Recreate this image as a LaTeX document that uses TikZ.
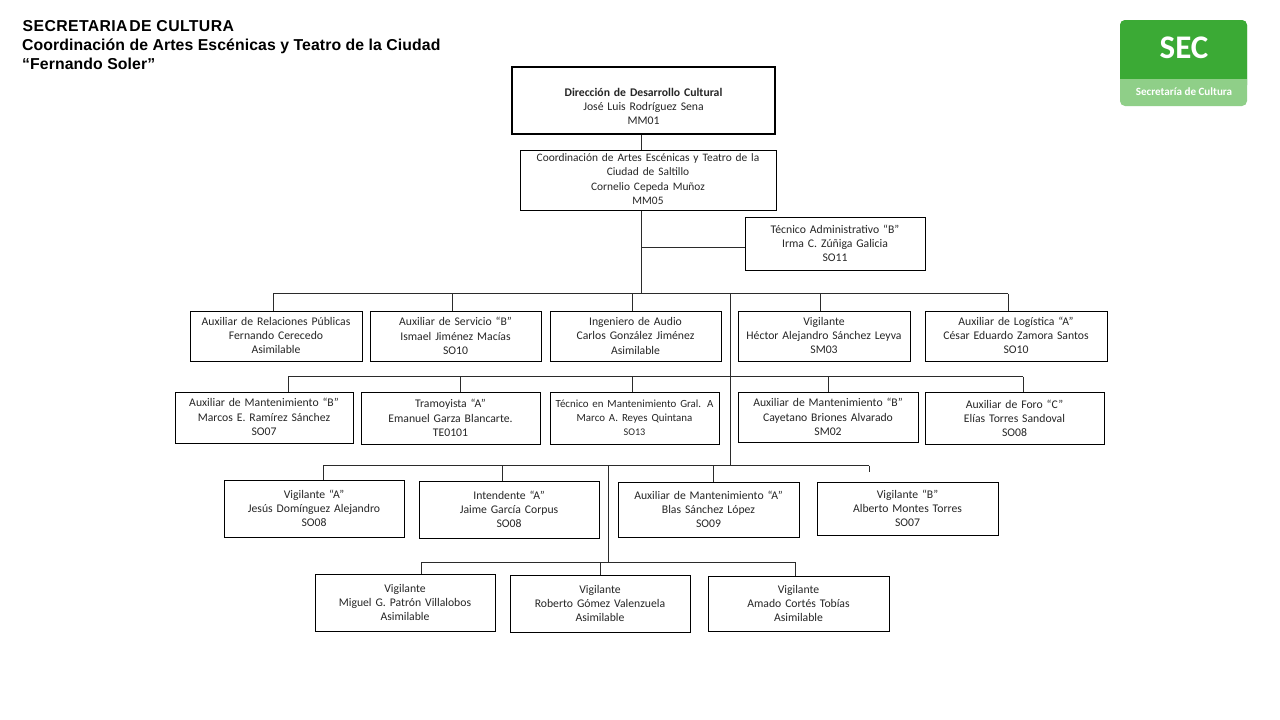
\documentclass[tikz,border=0pt]{standalone}
\usepackage{fontspec}
\setmainfont{Carlito}
\newfontfamily\titlefont{Liberation Sans}
\definecolor{ink}{HTML}{262626}
\definecolor{linec}{HTML}{2B2B2B}
\definecolor{secgreen}{HTML}{3BAA35}
\definecolor{secpale}{HTML}{8FCF88}
\tikzset{
  orgbox/.style={draw=black,line width=1pt,fill=white,inner sep=0pt,align=center,text=ink,
    font=\fontsize{11.7}{14.2}\selectfont},
  topbox/.style={orgbox,line width=2.2pt},
  conn/.style={draw=linec,line width=1pt},
  titletext/.style={anchor=base west,inner sep=0pt,text=black,font=\titlefont\bfseries\fontsize{15.8}{18}\selectfont},
}
% box: optional style, name, x1, y1, x2, y2, text shift, text
\newcommand{\bx}[8][orgbox]{%
  \pgfmathsetmacro{\bw}{#5-#3}\pgfmathsetmacro{\bh}{#6-#4}%
  \pgfmathsetmacro{\bcx}{(#5+#3)/2}\pgfmathsetmacro{\bcy}{(#6+#4)/2}%
  \node[#1,minimum width=\bw pt,minimum height=\bh pt,text width=\bw pt] (#2) at (\bcx,\bcy) {\raisebox{\dimexpr#7pt-5.7pt\relax}{\smash{\parbox{\bw pt}{\centering #8}}}};}
\begin{document}
\begin{tikzpicture}[x=1pt,y=-1pt]
\useasboundingbox (0,0) rectangle (1280,720);
\fill[white] (0,0) rectangle (1280,720);
% titles
\node[titletext] (t1) at (22.5,31) {\addfontfeature{LetterSpace=2.4}SECRETARIA\kern-3pt\ DE CULTURA};
\node[titletext] (t2) at (22,50) {\addfontfeature{LetterSpace=0.6}Coordinación de Artes Escénicas y Teatro de la Ciudad};
\node[titletext] (t3) at (22,69) {\addfontfeature{LetterSpace=0.6}“Fernando Soler”};
% logo
\fill[secpale,rounded corners=5pt] (1120,20) rectangle (1247,106);
\fill[secgreen,rounded corners=5pt] (1120,20) rectangle (1247,90);
\fill[secpale] (1120,79) rectangle (1247,92);
\node[text=white,inner sep=0pt,font=\bfseries\fontsize{33}{33}\selectfont] (logo1) at (1184,48) {SEC};
\node[text=white,inner sep=0pt,font=\bfseries\fontsize{11.1}{12}\selectfont] (logo2) at (1184,92) {Secretaría de Cultura};
% boxes
\bx[topbox]{dir}{512}{67}{775}{134}{-12}{\textbf{Dirección  de Desarrollo Cultural}\\José Luis Rodríguez Sena\\MM01}
\bx{coord}{520}{150}{776}{210}{1.5}{\fontsize{11.4}{14.2}\selectfont Coordinación de Artes Escénicas y Teatro de la\\Ciudad de Saltillo\\Cornelio Cepeda Muñoz\\MM05}
\bx{adm}{745}{217}{925}{270}{0}{Técnico Administrativo “B”\\Irma C. Zúñiga Galicia\\SO11}
\bx{ra}{190}{311}{362}{361}{1}{Auxiliar de Relaciones Públicas\\Fernando Cerecedo\\Asimilable}
\bx{rb}{370}{311}{541}{361}{0}{Auxiliar de Servicio “B”\\Ismael Jiménez Macías\\SO10}
\bx{rc}{550}{311}{721}{361}{0}{Ingeniero de Audio\\Carlos González Jiménez\\Asimilable}
\bx{rd}{738}{311}{910}{361}{1}{Vigilante\\Héctor Alejandro Sánchez Leyva\\SM03}
\bx{re}{925}{311}{1107}{361}{1}{Auxiliar de Logística “A”\\César Eduardo Zamora Santos\\SO10}
\bx{sa}{175}{392}{353}{443}{1}{Auxiliar de Mantenimiento “B”\\Marcos E. Ramírez Sánchez\\SO07}
\bx{sb}{361}{392}{540}{444}{0}{Tramoyista “A”\\Emanuel Garza Blancarte.\\TE0101}
\bx{sc}{550}{392}{719}{444}{0}{{\fontsize{10.9}{14.2}\selectfont Técnico en Mantenimiento Gral. A}\\{\fontsize{10.9}{14.2}\selectfont Marco A. Reyes Quintana}\\{\fontsize{10.2}{14.2}\selectfont SO13}}
\bx{sd}{738}{392}{918}{442}{0}{Auxiliar de Mantenimiento “B”\\Cayetano Briones Alvarado\\SM02}
\bx{se}{925}{392}{1104}{444}{-1}{Auxiliar de Foro “C”\\Elías Torres Sandoval\\SO08}
\bx{ta}{224}{480}{404}{537}{0}{Vigilante “A”\\Jesús Domínguez Alejandro\\SO08}
\bx{tb}{419}{481}{599}{538}{0}{Intendente “A”\\Jaime García Corpus\\SO08}
\bx{tc}{618}{482}{799}{537}{0}{Auxiliar de Mantenimiento “A”\\Blas Sánchez López\\SO09}
\bx{td}{817}{482}{998}{535}{0}{Vigilante “B”\\Alberto Montes Torres\\SO07}
\bx{ua}{315}{574}{495}{631}{0}{Vigilante\\Miguel G. Patrón Villalobos\\Asimilable}
\bx{ub}{510}{575}{690}{632}{0}{Vigilante\\Roberto Gómez Valenzuela\\Asimilable}
\bx{uc}{708}{576}{889}{631}{0}{Vigilante\\Amado Cortés Tobías\\Asimilable}
% junctions
\coordinate (j0) at (641,293.5);
\coordinate (j1) at (641,247);
\coordinate (k1) at (730,293.5);
\coordinate (k2) at (730,465.5);
\coordinate (m1) at (608,465.5);
\coordinate (m2) at (608,562);
\foreach \n/\x in {pa/273,pb/452,pc/632,pd/820,pe/1008}{\coordinate (\n) at (\x,293.5);}
\foreach \n/\x in {qa/288,qb/460,qc/632,qd/828,qe/1023}{\coordinate (\n) at (\x,376.5);}
\foreach \n/\x in {va/323,vb/502,vc/713,vd/869}{\coordinate (\n) at (\x,465.5);}
\foreach \n/\x in {wa/421,wb/600,wc/795}{\coordinate (\n) at (\x,562);}
\coordinate (vdend) at (869,472);
% connectors
\path[conn] (dir.south -| j0) -- (coord.north -| j0);
\path[conn] (coord.south -| j0) -- (j0);
\path[conn] (j1) -- (adm.west |- j1);
\path[conn] (pa) -- (pe);
\path[conn] (k1) -- (k2);
\path[conn] (qa) -- (qe);
\path[conn] (va) -- (vd);
\path[conn] (m1) -- (m2);
\path[conn] (wa) -- (wc);
\path[conn] (pa) -- (pa |- ra.north);
\path[conn] (pb) -- (pb |- rb.north);
\path[conn] (pc) -- (pc |- rc.north);
\path[conn] (pd) -- (pd |- rd.north);
\path[conn] (pe) -- (pe |- re.north);
\path[conn] (qa) -- (qa |- sa.north);
\path[conn] (qb) -- (qb |- sb.north);
\path[conn] (qc) -- (qc |- sc.north);
\path[conn] (qd) -- (qd |- sd.north);
\path[conn] (qe) -- (qe |- se.north);
\path[conn] (va) -- (va |- ta.north);
\path[conn] (vb) -- (vb |- tb.north);
\path[conn] (vc) -- (vc |- tc.north);
\path[conn] (vd) -- (vdend);
\path[conn] (wa) -- (wa |- ua.north);
\path[conn] (wb) -- (wb |- ub.north);
\path[conn] (wc) -- (wc |- uc.north);
\end{tikzpicture}
\end{document}
